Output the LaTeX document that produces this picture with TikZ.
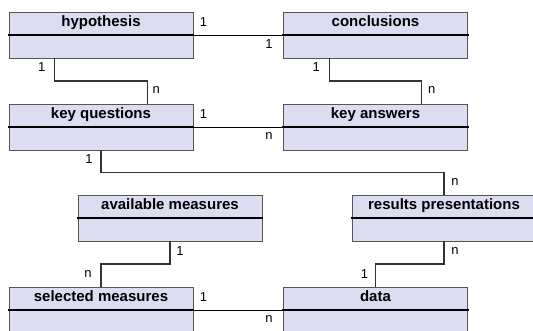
\documentclass[tikz,border=0pt]{standalone}
\usepackage{fontspec}
\setmainfont{Liberation Sans}
\usetikzlibrary{calc}
\definecolor{boxfill}{RGB}{221,221,242}
\definecolor{boxline}{RGB}{85,85,85}
\begin{document}
\begin{tikzpicture}[x=1pt,y=-1pt, entity/.style={draw=boxline,fill=boxfill,line width=0.9pt,minimum width=184pt,inner xsep=0pt,inner ysep=0pt,text height=14pt,text depth=32pt,font=\bfseries\fontsize{15}{15}\selectfont}, divider/.style={line width=2.4pt,black}, hlink/.style={line width=0.9pt,black}, link/.style={line width=1.3pt,black!80}, card/.style={font=\fontsize{13}{13}\selectfont,inner sep=0pt}]
\useasboundingbox (0,0) rectangle (533,330);
\node[entity] (hyp) at (101,35) {hypothesis};
\node[entity] (conc) at (375.5,35) {conclusions};
\node[entity] (kq) at (101,127) {key questions};
\node[entity] (ka) at (375.5,127) {key answers};
\node[entity] (avail) at (170,218) {available measures};
\node[entity] (res) at (444,218) {results presentations};
\node[entity] (sel) at (101,310) {selected measures};
\node[entity] (data) at (375.5,310) {data};
\foreach \e in {hyp,conc,kq,ka,avail,res,sel,data}
    \draw[divider] ([xshift=-1pt]\e.west) -- ([xshift=1pt]\e.east);
\draw[hlink] (hyp.east) -- (conc.west);
\draw[hlink] (kq.east) -- (ka.west);
\draw[hlink] (sel.east) -- (data.west);
\coordinate (hypq) at ($(hyp.south west)!0.25!(hyp.south east)$);
\coordinate (kqq) at ($(kq.north west)!0.75!(kq.north east)$);
\coordinate (concq) at ($(conc.south west)!0.25!(conc.south east)$);
\coordinate (kaq) at ($(ka.north west)!0.75!(ka.north east)$);
\draw[link] (hypq) |- ($(hypq)!0.5!(kqq)$) -| (kqq);
\draw[link] (concq) |- ($(concq)!0.5!(kaq)$) -| (kaq);
\draw[link] (kq.south) |- ($(kq.south)!0.5!(res.north)$) -| (res.north);
\draw[link] (avail.south) |- ($(avail.south)!0.5!(sel.north)$) -| (sel.north);
\draw[link] (res.south) |- ($(res.south)!0.5!(data.north)$) -| (data.north);
\node[card] (c1) at ($(hyp.east)+(10,-13)$) {1};
\node[card] (c2) at ($(conc.west)+(-14,9)$) {1};
\node[card] (c3) at ($(kq.east)+(10,-13)$) {1};
\node[card] (c4) at ($(ka.west)+(-14,9)$) {n};
\node[card] (c5) at ($(sel.east)+(10,-13)$) {1};
\node[card] (c6) at ($(data.west)+(-14,9)$) {n};
\node[card] (c7) at ($(hypq)+(-13,9)$) {1};
\node[card] (c8) at ($(kqq)+(9,-14)$) {n};
\node[card] (c9) at ($(concq)+(-13,9)$) {1};
\node[card] (c10) at ($(kaq)+(10,-14)$) {n};
\node[card] (c11) at ($(kq.south)+(-12,9)$) {1};
\node[card] (c12) at ($(res.north)+(11,-13)$) {n};
\node[card] (c13) at ($(avail.south)+(10,10)$) {1};
\node[card] (c14) at ($(sel.north)+(-13,-13)$) {n};
\node[card] (c15) at ($(res.south)+(11,10)$) {n};
\node[card] (c16) at ($(data.north)+(-11,-13)$) {1};
\end{tikzpicture}
\end{document}
